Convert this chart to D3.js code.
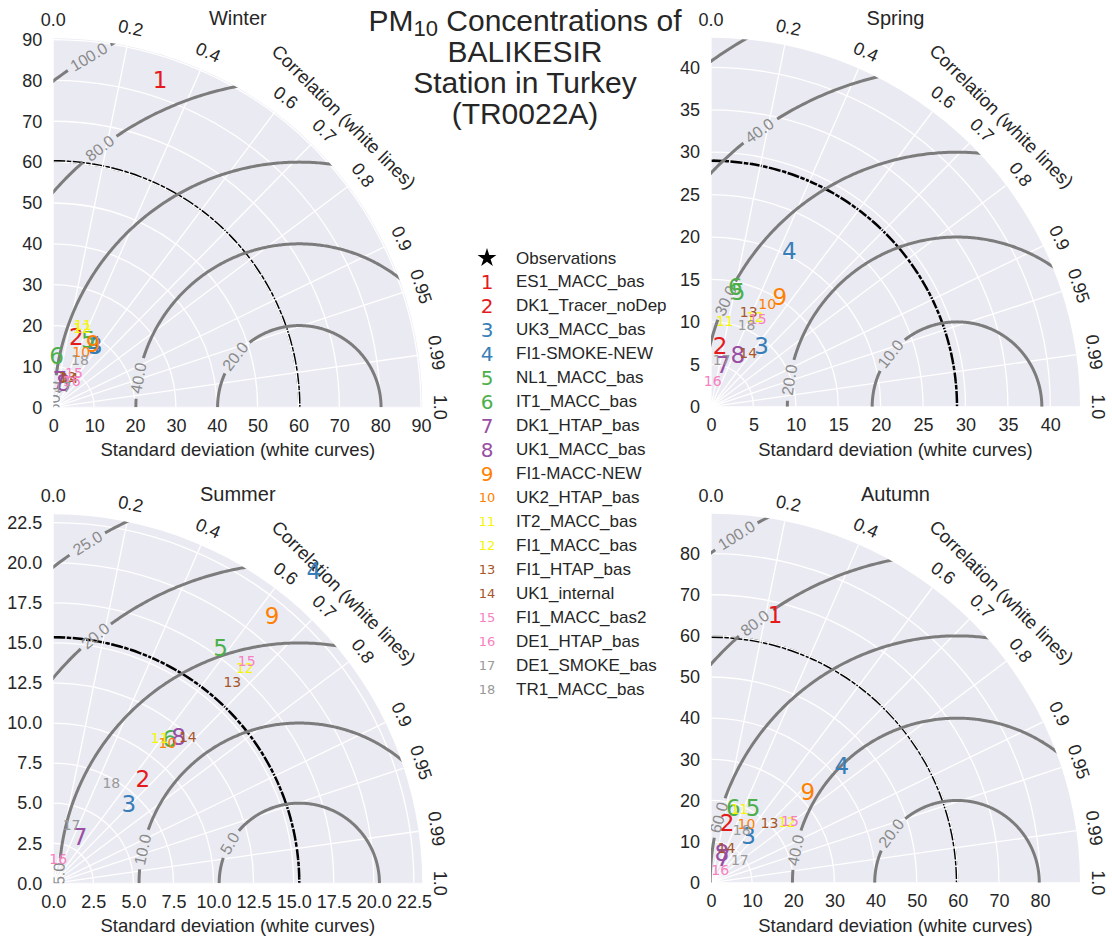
<!DOCTYPE html>
<html><head><meta charset="utf-8">
<script src="https://cdn.jsdelivr.net/npm/d3@7/dist/d3.min.js"></script>
<style>body{margin:0;background:#fff;} svg{display:block;}</style>
</head><body>
<svg id="chart" width="1112" height="938"></svg>
<script>
// ---------------- data ----------------
const seasons = ["Winter", "Spring", "Summer", "Autumn"];
const modelIds = ["1","2","3","4","5","6","7","8","9","10","11","12","13","14","15","16","17","18"];
const modelNames = ["ES1_MACC_bas","DK1_Tracer_noDep","UK3_MACC_bas","FI1-SMOKE-NEW","NL1_MACC_bas",
  "IT1_MACC_bas","DK1_HTAP_bas","UK1_MACC_bas","FI1-MACC-NEW","UK2_HTAP_bas","IT2_MACC_bas",
  "FI1_MACC_bas","FI1_HTAP_bas","UK1_internal","FI1_MACC_bas2","DE1_HTAP_bas","DE1_SMOKE_bas","TR1_MACC_bas"];
const refStd = [60.2, 29.0, 15.35, 59.8];

const winterStd  = [84.2, 18.2, 18.2, 18.3, 18.6, 12.5, 6.9, 6.5, 18.4, 15.2, 21.4, 20.6, 8.3, 8.1, 9.9, 7.9, 5.5, 13.3];
const winterCorr = [0.31, 0.31, 0.566, 0.547, 0.46, 0.064, 0.23, 0.38, 0.53, 0.45, 0.34, 0.34, 0.42, 0.49, 0.51, 0.57, 0.42, 0.49];
const springStd  = [null, 7.2, 9.3, 20.5, 13.9, 14.4, 5.1, 6.9, 15.3, 13.8, 10.2, 11.8, 12.0, 7.7, 11.7, 3.0, 5.65, 10.5];
const springCorr = [null, 0.15, 0.64, 0.45, 0.23, 0.20, 0.28, 0.46, 0.53, 0.48, 0.16, 0.44, 0.37, 0.57, 0.47, 0.07, 0.22, 0.40];
const summerStd  = [null, 8.6, 6.84, 25.4, 18.0, 11.58, 3.34, 12.0, 21.57, 11.3, 11.26, 18.0, 16.8, 12.4, 18.4, 1.52, 3.8, 7.24];
const summerCorr = [null, 0.65, 0.69, 0.64, 0.58, 0.627, 0.50, 0.652, 0.633, 0.63, 0.59, 0.664, 0.665, 0.677, 0.656, 0.20, 0.30, 0.50];
const autumnStd  = [66.8, 15.05, 14.5, 42.6, 20.9, 18.96, 6.7, 7.66, 32.2, 16.6, 19.3, 23.7, 20.3, 9.2, 24.3, 3.9, 9.0, 14.9];
const autumnCorr = [0.233, 0.26, 0.63, 0.746, 0.49, 0.286, 0.45, 0.34, 0.73, 0.52, 0.36, 0.78, 0.70, 0.41, 0.79, 0.57, 0.78, 0.50];

const winterTicks = [0,10,20,30,40,50,60,70,80,90];
const springTicks = [0,5,10,15,20,25,30,35,40];
const summerTicks = [0,2.5,5,7.5,10,12.5,15,17.5,20,22.5];
const autumnTicks = [0,10,20,30,40,50,60,70,80];
const corrTicks = [0.0,0.2,0.4,0.6,0.7,0.8,0.9,0.95,0.99,1.0];

const winterLevels = [20,40,60,80,100];
const springLevels = [10,20,30,40,50];
const summerLevels = [5,10,15,20,25];
const autumnLevels = [20,40,60,80,100];
// angle (deg, around the reference point) where each contour label sits; null = no label
const winterLabelAt = [141.5,169.7,177.5,127.6,121.0];
const springLabelAt = [141.6,170.9,155.4,125.6,null];
const summerLabelAt = [150.2,167.9,178.8,129.5,121.9];
const autumnLabelAt = [143.0,168.6,164.7,127.9,122.4];

// ---------------- style ----------------
const pairColors = ["#e41a1c","#377eb8","#4daf4a","#984ea3","#ff7f00","#f5f50a","#a65628","#f781bf","#999999"];
const modelColor = i => pairColors[Math.floor(i/2)];
const FONT = "'Liberation Sans', Arial, sans-serif";
const DFONT = "'DejaVu Sans', sans-serif";
const R = 369;
const origins = [[53.3,407.3],[711,406.7],[53.3,883.3],[711,882.7]];
const TICK = 18;

const panels = [
  {std: winterStd, corr: winterCorr, ticks: winterTicks, levels: winterLevels, labelAt: winterLabelAt, fmt: d3.format("d")},
  {std: springStd, corr: springCorr, ticks: springTicks, levels: springLevels, labelAt: springLabelAt, fmt: d3.format("d")},
  {std: summerStd, corr: summerCorr, ticks: summerTicks, levels: summerLevels, labelAt: summerLabelAt, fmt: d3.format(".1f")},
  {std: autumnStd, corr: autumnCorr, ticks: autumnTicks, levels: autumnLevels, labelAt: autumnLabelAt, fmt: d3.format("d")}
];

const svg = d3.select("#chart");
const defs = svg.append("defs");

panels.forEach((p, k) => {
  const [ox, oy] = origins[k];
  const ref = refStd[k];
  const smax = 1.5 * ref;
  const r = d3.scaleLinear().domain([0, smax]).range([0, R]);
  const xs = d3.scaleLinear().domain([0, smax]).range([ox, ox + R]);
  const ys = d3.scaleLinear().domain([0, smax]).range([oy, oy - R]);
  const px = (s, c) => [ox + r(s) * c, oy - r(s) * Math.sqrt(Math.max(0, 1 - c*c))];

  const clipId = "clip" + k;
  const sector = d3.arc().innerRadius(0).outerRadius(R).startAngle(0).endAngle(Math.PI/2);
  defs.append("clipPath").attr("id", clipId).append("path")
    .attr("transform", `translate(${ox},${oy})`).attr("d", sector());

  const g = svg.append("g");
  g.append("path").attr("transform", `translate(${ox},${oy})`).attr("d", sector()).attr("fill", "#eaeaf2");

  const grid = g.append("g").attr("clip-path", `url(#${clipId})`);
  // reference std (dash-dot), under the white grid
  grid.append("path").attr("transform", `translate(${ox},${oy})`)
    .attr("d", d3.arc().innerRadius(r(ref)).outerRadius(r(ref)).startAngle(0).endAngle(Math.PI/2)())
    .attr("fill", "none").attr("stroke", "#000").attr("stroke-width", 2.5)
    .attr("stroke-dasharray", "10,3.5,2.5,3.5");
  // white std circles
  p.ticks.filter(t => t > 0 && t < smax).forEach(t => {
    grid.append("path").attr("transform", `translate(${ox},${oy})`)
      .attr("d", d3.arc().innerRadius(r(t)).outerRadius(r(t)).startAngle(0).endAngle(Math.PI/2)())
      .attr("fill", "none").attr("stroke", "#fff").attr("stroke-width", 1.3);
  });
  // white correlation rays
  corrTicks.forEach(c => {
    const [x2, y2] = px(smax, c);
    grid.append("line").attr("x1", ox).attr("y1", oy).attr("x2", x2).attr("y2", y2)
      .attr("stroke", "#fff").attr("stroke-width", 1.3);
  });

  // RMS contours with inline labels
  const cg = g.append("g").attr("clip-path", `url(#${clipId})`);
  p.levels.forEach((L, j) => {
    const la = p.labelAt[j];
    let halfGap = 0;
    if (la !== null) {
      const phi = la * Math.PI / 180;
      const lx = xs(ref + L * Math.cos(phi)), ly = ys(L * Math.sin(phi));
      let ang = Math.atan2(-Math.cos(phi), -Math.sin(phi)) * 180 / Math.PI;
      if (ang > 90) ang -= 180; if (ang <= -90) ang += 180;
      const lab = cg.append("text").attr("transform", `translate(${lx},${ly}) rotate(${ang})`)
        .attr("text-anchor", "middle").attr("dominant-baseline", "central")
        .attr("font-family", FONT).attr("font-size", 16).attr("fill", "#8a8a8a")
        .text(d3.format(".1f")(L));
      const w = lab.node().getComputedTextLength();
      halfGap = (w / 2 + 4) / r(L);
    }
    const pts = d3.range(0, 180.01, 0.5).map(a => a * Math.PI / 180);
    const line = d3.line()
      .defined(a => la === null || Math.abs(a - la * Math.PI / 180) > halfGap)
      .x(a => xs(ref + L * Math.cos(a))).y(a => ys(L * Math.sin(a)));
    cg.insert("path", "text").attr("d", line(pts)).attr("fill", "none")
      .attr("stroke", "#7c7c7c").attr("stroke-width", 3);
  });

  // reference star
  g.append("path").attr("clip-path", `url(#${clipId})`)
    .attr("transform", `translate(${xs(ref)},${oy})`)
    .attr("d", d3.symbol(d3.symbolStar, 150)()).attr("fill", "#000");

  // axes
  const xAxis = d3.axisBottom(xs).tickValues(p.ticks).tickFormat(p.fmt).tickSize(0).tickPadding(12);
  const ax = g.append("g").attr("transform", `translate(0,${oy})`).call(xAxis);
  const yAxis = d3.axisLeft(ys).tickValues(p.ticks).tickFormat(p.fmt).tickSize(0).tickPadding(11);
  const ay = g.append("g").attr("transform", `translate(${ox},0)`).call(yAxis);
  [ax, ay].forEach(a => {
    a.select(".domain").remove();
    a.selectAll("text").attr("font-family", FONT).attr("font-size", TICK).attr("fill", "#262626");
  });

  g.append("text").attr("x", ox + R/2).attr("y", oy + 49).attr("text-anchor", "middle")
    .attr("font-family", FONT).attr("font-size", 18.5).attr("fill", "#262626")
    .text("Standard deviation (white curves)");

  // correlation tick labels
  corrTicks.forEach(c => {
    const th = Math.acos(c);
    const rr = R + 18;
    g.append("text")
      .attr("transform", `translate(${ox + rr*Math.cos(th)},${oy - rr*Math.sin(th)}) rotate(${90 - th*180/Math.PI})`)
      .attr("text-anchor", "middle").attr("dominant-baseline", "central")
      .attr("font-family", FONT).attr("font-size", TICK).attr("fill", "#262626")
      .text(c === 0 || c === 1 ? d3.format(".1f")(c) : String(c));
  });
  const rt = R + 42;
  g.append("text")
    .attr("transform", `translate(${ox + rt*Math.SQRT1_2},${oy - rt*Math.SQRT1_2}) rotate(45)`)
    .attr("text-anchor", "middle").attr("dominant-baseline", "central")
    .attr("font-family", FONT).attr("font-size", 18.5).attr("fill", "#262626")
    .text("Correlation (white lines)");

  g.append("text").attr("x", ox + R/2).attr("y", oy - 382).attr("text-anchor", "middle")
    .attr("font-family", FONT).attr("font-size", 20).attr("fill", "#262626").text(seasons[k]);

  // model points
  p.std.forEach((s, i) => {
    if (s === null) return;
    const [x, y] = px(s, p.corr[i]);
    g.append("text").attr("x", x).attr("y", y)
      .attr("text-anchor", "middle").attr("dominant-baseline", "central")
      .attr("font-family", DFONT).attr("font-size", modelIds[i].length > 1 ? 14 : 23)
      .attr("fill", modelColor(i)).text(modelIds[i]);
  });
});

// legend
const lg = svg.append("g");
const ly0 = 258, dy = 23.95;
lg.append("path").attr("transform", `translate(487,${ly0})`).attr("d", d3.symbol(d3.symbolStar, 110)()).attr("fill", "#000");
lg.append("text").attr("x", 516).attr("y", ly0).attr("dominant-baseline", "central")
  .attr("font-family", FONT).attr("font-size", 17).attr("fill", "#262626").text("Observations");
modelNames.forEach((n, i) => {
  const y = ly0 + (i + 1) * dy;
  lg.append("text").attr("x", 487).attr("y", y).attr("text-anchor", "middle").attr("dominant-baseline", "central")
    .attr("font-family", DFONT).attr("font-size", modelIds[i].length > 1 ? 13 : 20)
    .attr("fill", modelColor(i)).text(modelIds[i]);
  lg.append("text").attr("x", 516).attr("y", y).attr("dominant-baseline", "central")
    .attr("font-family", FONT).attr("font-size", 17).attr("fill", "#262626").text(n);
});

// main title
const TX = 525;
const tt = svg.append("text").attr("text-anchor", "middle").attr("font-family", FONT)
  .attr("font-size", 30).attr("fill", "#262626");
const l1 = tt.append("tspan").attr("x", TX).attr("y", 31);
l1.append("tspan").text("PM");
l1.append("tspan").attr("font-size", 22).attr("dy", 5).text("10");
l1.append("tspan").attr("dy", -5).text(" Concentrations of");
tt.append("tspan").attr("x", TX).attr("y", 62).text("BALIKESIR");
tt.append("tspan").attr("x", TX).attr("y", 93).text("Station in Turkey");
tt.append("tspan").attr("x", TX).attr("y", 124).text("(TR0022A)");
</script>
</body></html>
